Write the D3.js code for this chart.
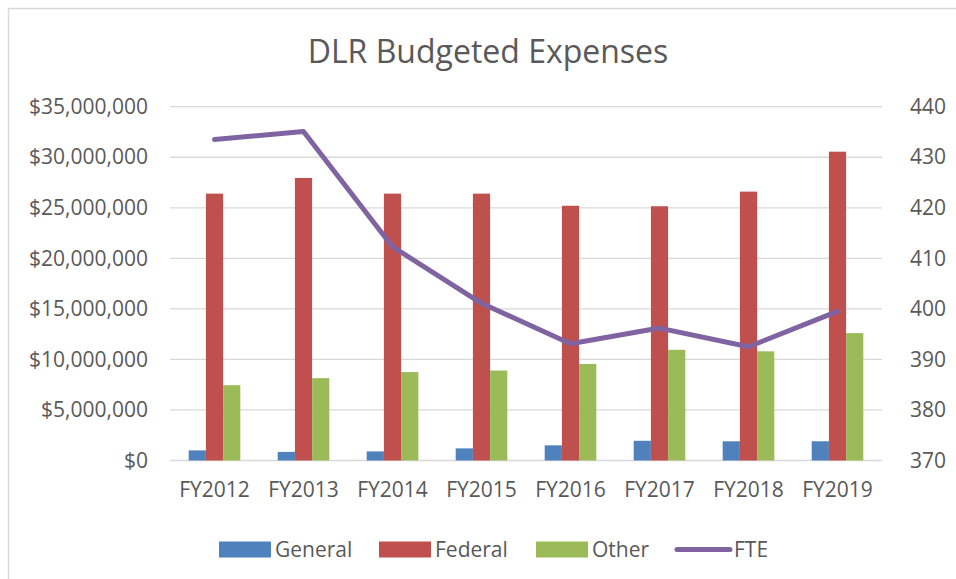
<!DOCTYPE html>
<html lang="en">
<head>
<meta charset="utf-8">
<script src="https://cdnjs.cloudflare.com/ajax/libs/d3/7.8.5/d3.min.js"></script>
<style>
  body { margin: 0; background: #fff; }
  svg text { font-family: "Open Sans", sans-serif; fill: #595959; }
</style>
</head>
<body>
<div id="chart"></div>
<script>
    // values
    let years = ['FY2012', 'FY2013', 'FY2014', 'FY2015', 'FY2016', 'FY2017', 'FY2018', 'FY2019']
    let general = [1000000, 850000, 900000, 1200000, 1500000, 1950000, 1900000, 1900000]
    let federal = [26400000, 27950000, 26400000, 26400000, 25200000, 25150000, 26600000, 30550000]
    let other = [7450000, 8150000, 8750000, 8900000, 9550000, 10950000, 10800000, 12600000]
    let fte = [433.5, 435.1, 412.3, 401.1, 393.1, 396.2, 392.5, 399.5]
    let seriesNames = ['General', 'Federal', 'Other']
    let colors = {General: '#4F81BD', Federal: '#C0504D', Other: '#9BBB59', FTE: '#8064A2'}

    let w = 956
    let h = 579
    let plot = {left: 170, right: 882, top: 106.7, bottom: 460.5}

    let dataset = years.map(function(y, i) {
        return {year: y, General: general[i], Federal: federal[i], Other: other[i], fte: fte[i]}
    })

    let x0 = d3.scaleBand()
        .domain(years)
        .range([plot.left, plot.right])
        .paddingInner(0.42)
        .paddingOuter(0.21)
    let x1 = d3.scaleBand()
        .domain(seriesNames)
        .range([0, x0.bandwidth()])
    let yLeft = d3.scaleLinear()
        .domain([0, 35000000])
        .range([plot.bottom, plot.top])
    let yRight = d3.scaleLinear()
        .domain([370, 440])
        .range([plot.bottom, plot.top])

    let svg = d3.select('#chart')
        .append('svg')
        .attr('width', w)
        .attr('height', h)

    // chart frame
    svg.append('rect')
        .attr('x', 8.5)
        .attr('y', 8.5)
        .attr('width', w + 20)
        .attr('height', h + 20)
        .attr('fill', 'white')
        .attr('stroke', '#D9D9D9')
        .attr('stroke-width', 1.5)

    svg.append('text')
        .attr('x', 488)
        .attr('y', 63)
        .attr('text-anchor', 'middle')
        .style('font-size', '32px')
        .text('DLR Budgeted Expenses')

    // gridlines
    let leftTicks = d3.range(0, 35000001, 5000000)
    svg.append('g')
        .selectAll('line')
        .data(leftTicks)
        .enter()
        .append('line')
        .attr('x1', plot.left)
        .attr('x2', plot.right)
        .attr('y1', function(d) { return yLeft(d) })
        .attr('y2', function(d) { return yLeft(d) })
        .attr('stroke', '#D9D9D9')
        .attr('stroke-width', 1.3)

    let leftAxis = d3.axisLeft(yLeft)
        .tickValues(leftTicks)
        .tickSize(0)
        .tickPadding(22)
        .tickFormat(d3.format('$,'))
    let gl = svg.append('g')
        .attr('transform', 'translate(' + plot.left + ',0)')
        .call(leftAxis)
    gl.select('.domain').remove()
    gl.selectAll('text').style('font-size', '21px').attr('font-family', null)

    let rightAxis = d3.axisRight(yRight)
        .tickValues(d3.range(370, 441, 10))
        .tickSize(0)
        .tickPadding(28)
    let gr = svg.append('g')
        .attr('transform', 'translate(' + plot.right + ',0)')
        .call(rightAxis)
    gr.select('.domain').remove()
    gr.selectAll('text').style('font-size', '21px').attr('font-family', null)

    let xAxis = d3.axisBottom(x0)
        .tickSize(0)
        .tickPadding(22)
    let gx = svg.append('g')
        .attr('transform', 'translate(0,' + plot.bottom + ')')
        .call(xAxis)
    gx.select('.domain').remove()
    gx.selectAll('text').style('font-size', '21px').attr('font-family', null)

    // bars
    svg.append('g')
        .selectAll('g')
        .data(dataset)
        .enter()
        .append('g')
        .attr('transform', function(d) { return 'translate(' + x0(d.year) + ',0)' })
        .selectAll('rect')
        .data(function(d) { return seriesNames.map(function(k) { return {key: k, value: d[k]} }) })
        .enter()
        .append('rect')
        .attr('x', function(d) { return x1(d.key) })
        .attr('width', x1.bandwidth())
        .attr('y', function(d) { return yLeft(d.value) })
        .attr('height', function(d) { return yLeft(0) - yLeft(d.value) })
        .attr('fill', function(d) { return colors[d.key] })

    // FTE line
    let line = d3.line()
        .x(function(d) { return x0(d.year) + x0.bandwidth() / 2 })
        .y(function(d) { return yRight(d.fte) })
    svg.append('path')
        .datum(dataset)
        .attr('d', line)
        .attr('fill', 'none')
        .attr('stroke', colors.FTE)
        .attr('stroke-width', 5)
        .attr('stroke-linecap', 'round')
        .attr('stroke-linejoin', 'round')

    // legend
    let legendX = [219, 379, 536, 675]
    let legendItems = seriesNames.concat(['FTE'])
    let lg = svg.append('g')
        .selectAll('g')
        .data(legendItems)
        .enter()
        .append('g')
        .attr('transform', function(d, i) { return 'translate(' + legendX[i] + ',549.5)' })
    lg.filter(function(d) { return d !== 'FTE' })
        .append('rect')
        .attr('x', 0)
        .attr('y', -8)
        .attr('width', 52)
        .attr('height', 16)
        .attr('fill', function(d) { return colors[d] })
    lg.filter(function(d) { return d === 'FTE' })
        .append('line')
        .attr('x1', 2)
        .attr('x2', 55)
        .attr('stroke', colors.FTE)
        .attr('stroke-width', 5)
        .attr('stroke-linecap', 'round')
    lg.append('text')
        .attr('x', function(d) { return d === 'FTE' ? 59 : 56 })
        .attr('y', 7.5)
        .style('font-size', '21px')
        .text(function(d) { return d })
</script>
</body>
</html>
